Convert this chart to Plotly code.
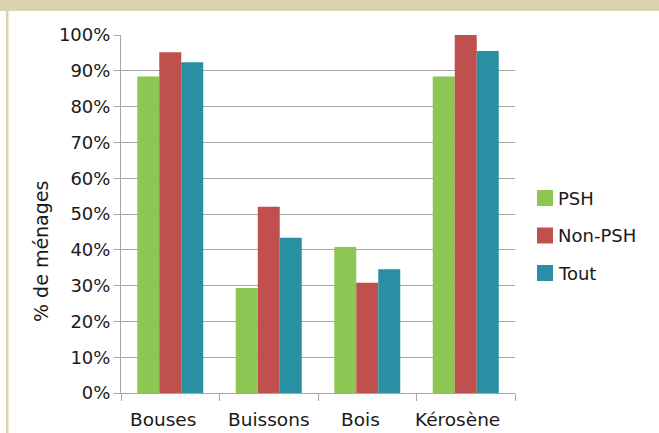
import plotly.graph_objects as go

categories = ["Bouses", "Buissons", "Bois", "Kérosène"]
psh = [88.4, 29.3, 40.8, 88.4]
non_psh = [95.2, 52.0, 30.8, 100.0]
tout = [92.4, 43.4, 34.6, 95.5]
series_names = ["PSH", "Non-PSH", "Tout"]
colors = ["#8DC652", "#C0504D", "#2990A4"]
y_ticks = [0, 10, 20, 30, 40, 50, 60, 70, 80, 90, 100]
y_tick_labels = [f"{v}%" for v in y_ticks]
y_title = "% de ménages"

fig = go.Figure()
for name, vals, col in zip(series_names, [psh, non_psh, tout], colors):
    fig.add_trace(go.Bar(x=categories, y=vals, name=name, marker_color=col,
                         marker_line_width=0, showlegend=False))

W, H = 659, 433
ml, mr, mt, mb = 121, 144, 35, 40
pw, ph = W - ml - mr, H - mt - mb

def px_x(x):
    return (x - ml) / pw

def px_y(y):
    return (H - mb - y) / ph

FONT = "DejaVu Sans, Verdana, sans-serif"
TXT = "#1a1a1a"
beige = "#DAD3AE"
fig.add_shape(type="rect", xref="paper", yref="paper",
              x0=px_x(0), x1=px_x(W), y0=px_y(11), y1=px_y(0),
              fillcolor=beige, line_width=0, layer="below")
fig.add_shape(type="rect", xref="paper", yref="paper",
              x0=px_x(6), x1=px_x(8.5), y0=px_y(H), y1=px_y(11),
              fillcolor=beige, line_width=0, layer="below")

# custom legend (16px squares, ~37px spacing)
for i, (name, col) in enumerate(zip(series_names, colors)):
    cy = 198 + 37.5 * i
    fig.add_shape(type="rect", xref="paper", yref="paper",
                  x0=px_x(537), x1=px_x(553), y0=px_y(cy + 8), y1=px_y(cy - 8),
                  fillcolor=col, line_width=0)
    fig.add_annotation(xref="paper", yref="paper", x=px_x(556), y=px_y(cy),
                       xanchor="left", yanchor="middle", text=name, showarrow=False,
                       font=dict(family=FONT, size=18, color=TXT))

# y-axis title
fig.add_annotation(xref="paper", yref="paper", x=px_x(41), y=px_y(252),
                   xanchor="center", yanchor="middle", text=y_title, textangle=-90,
                   showarrow=False, font=dict(family=FONT, size=19, color=TXT))

# category labels (placed like the reference, slightly left of centre)
label_shift = [-7.5, 0, -6.5, -8.5]
for cat, dx in zip(categories, label_shift):
    fig.add_annotation(xref="x", yref="paper", x=cat, y=px_y(419), xshift=dx,
                       xanchor="center", yanchor="middle", text=cat, showarrow=False,
                       font=dict(family=FONT, size=18.5, color=TXT))

fig.update_layout(
    width=W, height=H,
    margin=dict(l=ml, r=mr, t=mt, b=mb, pad=0),
    paper_bgcolor="white", plot_bgcolor="white",
    barmode="group", bargap=0.33, bargroupgap=0,
    font=dict(family=FONT, size=18, color=TXT),
    showlegend=False,
    xaxis=dict(showline=True, linecolor="#A6A6A6", linewidth=1,
               ticks="outside", tickson="boundaries", ticklen=7, tickcolor="#A6A6A6",
               showgrid=False, showticklabels=False),
    yaxis=dict(range=[0, 100], tickvals=y_ticks, ticktext=y_tick_labels,
               showline=True, linecolor="#A6A6A6", linewidth=1,
               ticks="outside", ticklen=6, tickcolor="#A6A6A6",
               showgrid=True, gridcolor="#A6A6A6", gridwidth=1,
               zeroline=False),
)

fig.write_html("out.html", config={"displayModeBar": False},
               post_script="document.body.style.margin='0px';")
